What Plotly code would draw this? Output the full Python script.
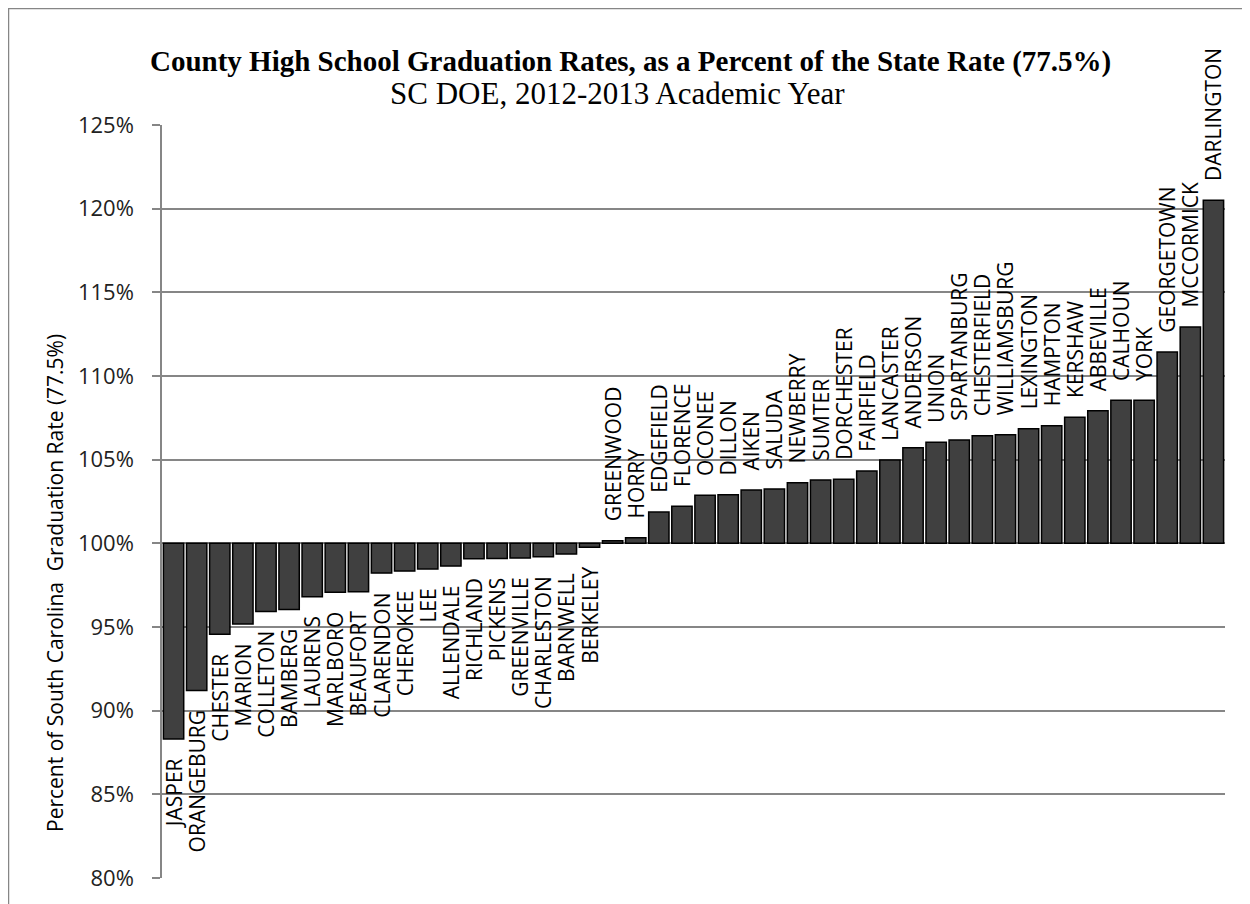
import plotly.graph_objects as go

counties = ['JASPER', 'ORANGEBURG', 'CHESTER', 'MARION', 'COLLETON', 'BAMBERG',
            'LAURENS', 'MARLBORO', 'BEAUFORT', 'CLARENDON', 'CHEROKEE', 'LEE',
            'ALLENDALE', 'RICHLAND', 'PICKENS', 'GREENVILLE', 'CHARLESTON',
            'BARNWELL', 'BERKELEY', 'GREENWOOD', 'HORRY', 'EDGEFIELD', 'FLORENCE',
            'OCONEE', 'DILLON', 'AIKEN', 'SALUDA', 'NEWBERRY', 'SUMTER',
            'DORCHESTER', 'FAIRFIELD', 'LANCASTER', 'ANDERSON', 'UNION',
            'SPARTANBURG', 'CHESTERFIELD', 'WILLIAMSBURG', 'LEXINGTON', 'HAMPTON',
            'KERSHAW', 'ABBEVILLE', 'CALHOUN', 'YORK', 'GEORGETOWN', 'MCCORMICK',
            'DARLINGTON']

# county rate as percent of the state rate
pct_of_state = [88.3, 91.2, 94.56, 95.18, 95.93, 96.05,
                96.81, 97.07, 97.11, 98.22, 98.34, 98.47,
                98.64, 99.08, 99.10, 99.12, 99.20,
                99.36, 99.76, 100.16, 100.33, 101.87, 102.21,
                102.87, 102.90, 103.19, 103.25, 103.62, 103.78,
                103.83, 104.32, 104.98, 105.71, 106.04,
                106.17, 106.43, 106.49, 106.85, 107.03,
                107.53, 107.93, 108.55, 108.55, 111.43, 112.93,
                120.50]

state_rate = 100
y_ticks = [80, 85, 90, 95, 100, 105, 110, 115, 120, 125]
y_tick_text = ['%d%%' % t for t in y_ticks]

# pad the labels away from the bar end (non-breaking spaces)
pad = '\u00a0' * 3
labels = [pad + c if v >= state_rate else c + pad
          for c, v in zip(counties, pct_of_state)]

# pixel helpers: plot area is 162..1225 x 125..878 on screen
def px_x(sx):
    return (sx - 162) / 1063

def px_y(sy):
    return (878 - sy) / 753

fig = go.Figure(go.Bar(
    x=counties,
    y=[v - state_rate for v in pct_of_state],
    base=state_rate,
    text=labels,
    textposition='outside',
    textangle=-90,
    constraintext='none',
    cliponaxis=False,
    textfont=dict(family='Open Sans', size=21, color='#000000'),
    marker=dict(color='#404040', line=dict(color='#000000', width=1.5)),
))

fig.update_layout(
    width=1250, height=904,
    margin=dict(l=154, r=33, t=117, b=34),
    plot_bgcolor='white', paper_bgcolor='white',
    bargap=0.12,
    showlegend=False,
    annotations=[
        dict(text='<b>County High School Graduation Rates, as a Percent of the State Rate (77.5%)</b>',
             xref='paper', yref='paper', x=px_x(630), y=px_y(43),
             showarrow=False, font=dict(family='Liberation Serif', size=29, color='#000000')),
        dict(text='SC DOE, 2012-2013 Academic Year',
             xref='paper', yref='paper', x=px_x(617), y=px_y(74),
             showarrow=False, font=dict(family='Liberation Serif', size=31, color='#000000')),
        dict(text='Percent of South Carolina  Graduation Rate (77.5%)',
             xref='paper', yref='paper', x=px_x(39), y=px_y(583), textangle=-90,
             showarrow=False, font=dict(family='Open Sans', size=21, color='#000000')),
    ],
    shapes=[dict(type='rect', xref='paper', yref='paper',
                 x0=px_x(8.5), x1=px_x(1247), y0=px_y(920), y1=px_y(8.5),
                 line=dict(color='#868686', width=1.5), layer='below')],
)

fig.update_xaxes(showticklabels=False, ticks='', showgrid=False, zeroline=False,
                 showline=False)
fig.update_yaxes(range=[80, 125], tickvals=y_ticks, ticktext=y_tick_text,
                 showgrid=True, gridcolor='#868686', gridwidth=1.5,
                 showline=True, linecolor='#868686', linewidth=1.5,
                 ticks='outside', ticklen=8, tickcolor='#868686', tickwidth=1.5,
                 ticklabelstandoff=14, zeroline=False,
                 tickfont=dict(family='Open Sans', size=22, color='#222222'))

fig.write_html("out.html")
